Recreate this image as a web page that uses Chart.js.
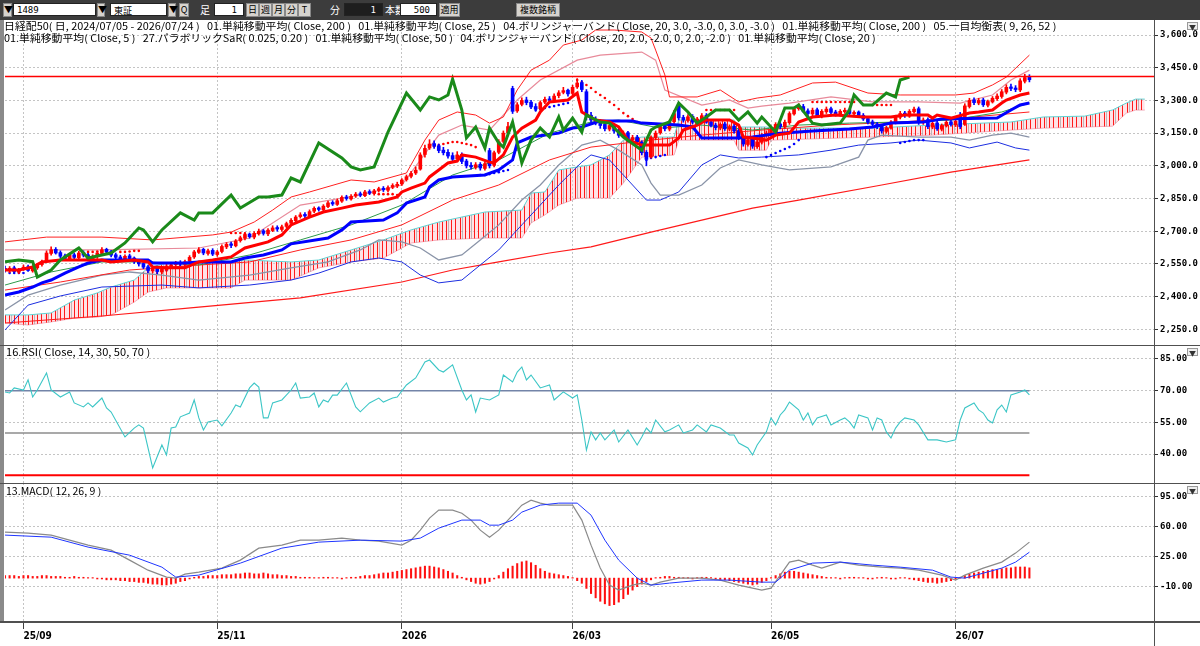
<!DOCTYPE html>
<html><head><meta charset="utf-8">
<script src="https://cdn.jsdelivr.net/npm/chart.js@4.4.1/dist/chart.umd.min.js"></script>
<style>
html,body{margin:0;padding:0;}
body{width:1200px;height:646px;overflow:hidden;background:#fff;position:relative;font-family:"Noto Sans CJK JP",sans-serif;}
.abs{position:absolute;}
#tb{left:0;top:0;width:1200px;height:20px;background:#3c3c3c;}
.inp{position:absolute;top:3px;height:13px;background:#fff;border:1px solid #222;font:9px "DejaVu Sans Mono",monospace;line-height:13px;color:#000;padding-left:3px;box-sizing:border-box;}
.btn{position:absolute;top:3px;height:14px;background:#d6d3ce;border:1px solid #888;font:9px "Noto Sans CJK JP",sans-serif;line-height:12px;color:#000;text-align:center;box-sizing:border-box;}
.wt{position:absolute;top:3px;color:#fff;font:10px "Noto Sans CJK JP",sans-serif;line-height:13px;}
.lg{position:absolute;white-space:nowrap;font:10px "Noto Sans CJK JP",sans-serif;line-height:12px;color:#000;transform-origin:0 0;}
canvas{position:absolute;left:0;}
.hl{position:absolute;left:0;width:1200px;background:#505050;}
.tri{position:absolute;left:1187px;width:11px;height:8px;border:1px solid #999;background:#eee;font-size:7px;line-height:8px;text-align:center;color:#333;box-sizing:border-box;}
</style></head>
<body>
<div id="tb" class="abs">
  <div class="btn" style="left:3px;width:9px">▼</div>
  <div class="inp" style="left:13px;width:83px">1489</div>
  <div class="btn" style="left:97px;width:8px">▼</div>
  <div class="inp" style="left:110px;width:57px;font-family:'Noto Sans CJK JP'">東証</div>
  <div class="btn" style="left:168px;width:8px">▼</div>
  <div class="btn" style="left:179px;width:10px">Q</div>
  <div class="wt" style="left:200px">足</div>
  <div class="inp" style="left:214px;width:30px;text-align:right;padding-right:6px">1</div>
  <div class="btn" style="left:246px;width:13px">日</div>
  <div class="btn" style="left:259px;width:13px">週</div>
  <div class="btn" style="left:272px;width:13px">月</div>
  <div class="btn" style="left:285px;width:13px">分</div>
  <div class="btn" style="left:298px;width:13px">T</div>
  <div class="wt" style="left:330px">分</div>
  <div class="inp" style="left:344px;width:39px;background:#1e1e1e;color:#fff;text-align:right;padding-right:6px">1</div>
  <div class="wt" style="left:385px">本数</div>
  <div class="inp" style="left:400px;width:37px;text-align:right;padding-right:6px">500</div>
  <div class="btn" style="left:439px;width:21px">適用</div>
  <div class="btn" style="left:516px;width:44px">複数銘柄</div>
</div>

<canvas id="cMain" width="1200" height="325" style="top:20px"></canvas>
<canvas id="cRsi" width="1200" height="138" style="top:345px"></canvas>
<canvas id="cMacd" width="1200" height="163" style="top:483px"></canvas>

<div class="abs" style="left:0;top:20px;width:4px;height:602px;background:#8a8a8a"></div>
<div class="hl" style="top:345px;height:1px"></div>
<div class="hl" style="top:483px;height:1px"></div>
<div class="hl" style="top:621px;height:2px"></div>
<div class="abs" style="left:1154px;top:20px;width:1px;height:626px;background:#505050"></div>

<div class="lg fit" data-w="1052" style="left:4px;top:20px">日経配50( 日, 2024/07/05 - 2026/07/24 )&nbsp;&nbsp;&nbsp;01.単純移動平均( Close, 200 )&nbsp;&nbsp;&nbsp;01.単純移動平均( Close, 25 )&nbsp;&nbsp;&nbsp;04.ボリンジャーバンド( Close, 20, 3.0, -3.0, 0, 3.0, -3.0 )&nbsp;&nbsp;&nbsp;01.単純移動平均( Close, 200 )&nbsp;&nbsp;&nbsp;05.一目均衡表( 9, 26, 52 )</div>
<div class="lg fit" data-w="872" style="left:4px;top:32px">01.単純移動平均( Close, 5 )&nbsp;&nbsp;&nbsp;27.パラボリックSaR( 0.025, 0.20 )&nbsp;&nbsp;&nbsp;01.単純移動平均( Close, 50 )&nbsp;&nbsp;&nbsp;04.ボリンジャーバンド( Close, 20, 2.0, -2.0, 0, 2.0, -2.0 )&nbsp;&nbsp;&nbsp;01.単純移動平均( Close, 20 )</div>
<div class="lg fit" data-w="144" style="left:6px;top:346px">16.RSI( Close, 14, 30, 50, 70 )</div>
<div class="lg fit" data-w="95" style="left:6px;top:485px">13.MACD( 12, 26, 9 )</div>
<div class="tri" style="top:22px">▼</div>
<div class="tri" style="top:348px">▼</div>
<div class="tri" style="top:486px">▼</div>

<script>
// ---------- axis ticks ----------
const tickIdx = [4, 46, 86, 123, 166, 206];
const tickLabels = ['25/09', '25/11', '2026', '26/03', '26/05', '26/07'];
const priceTicks = [2250, 2400, 2550, 2700, 2850, 3000, 3150, 3300, 3450, 3600];
const rsiTicks = [40, 55, 70, 85];
const macdTicks = [-10, 25, 60, 95];
const resistance = 3410;
const rsiLevels = [70, 50, 30];

// ---------- candles (bar index 0..222) ----------
const candleOpen = [
2530,2518,2532,2512,2527,2537,2518,2532,2547,2565,
2598,2617,2602,2587,2573,2592,2578,2602,2592,2573,
2583,2598,2617,2607,2592,2582,2568,2587,2577,2562,
2552,2537,2518,2532,2513,2522,2538,2547,2557,2548,
2562,2582,2603,2617,2598,2612,2593,2607,2628,2642,
2633,2657,2668,2687,2673,2688,2702,2688,2703,2717,
2708,2722,2737,2748,2767,2777,2768,2792,2807,2798,
2813,2832,2823,2838,2857,2848,2862,2872,2863,2882,
2873,2887,2897,2888,2902,2908,2917,2937,2952,2967,
2985,3052,3082,3102,3092,3072,3062,3047,3032,3052,
3022,3002,2993,3007,2988,3070,3002,3062,3112,3152,
3355,3252,3282,3302,3292,3272,3262,3292,3307,3302,
3322,3337,3347,3332,3362,3382,3340,3232,3212,3202,
3190,3168,3187,3162,3138,3152,3118,3132,3108,3062,
3040,3128,3152,3182,3168,3202,3280,3222,3208,3227,
3198,3213,3232,3202,3187,3173,3192,3168,3182,3162,
3132,3098,3122,3088,3108,3138,3148,3163,3192,3178,
3198,3238,3262,3272,3252,3238,3257,3228,3248,3262,
3247,3233,3248,3257,3238,3247,3232,3217,3202,3192,
3182,3158,3173,3198,3223,3242,3228,3248,3262,3198,
3212,3178,3197,3168,3183,3202,3188,3230,3190,3272,
3302,3288,3302,3278,3293,3308,3318,3338,3362,3357,
3348,3388,3410];
const candleClose = [
2520,2530,2515,2525,2535,2520,2530,2545,2560,2600,
2615,2600,2585,2575,2590,2580,2600,2590,2575,2585,
2600,2615,2605,2590,2580,2570,2585,2575,2560,2550,
2535,2520,2530,2515,2525,2540,2545,2555,2550,2560,
2580,2605,2615,2600,2610,2595,2605,2630,2640,2635,
2655,2670,2685,2675,2690,2700,2690,2705,2715,2710,
2720,2735,2750,2765,2775,2770,2790,2805,2800,2815,
2830,2825,2840,2855,2850,2860,2870,2865,2880,2875,
2885,2895,2890,2900,2910,2915,2935,2950,2965,2980,
3050,3080,3100,3090,3070,3060,3045,3030,3050,3020,
3000,2995,3005,2990,3010,3000,3060,3110,3150,3180,
3250,3280,3300,3290,3270,3260,3290,3305,3300,3320,
3335,3345,3330,3360,3380,3350,3230,3210,3200,3185,
3170,3185,3160,3140,3150,3120,3130,3110,3060,3030,
3130,3150,3180,3170,3200,3240,3220,3210,3225,3200,
3215,3230,3200,3185,3175,3190,3170,3180,3160,3130,
3100,3120,3090,3110,3140,3150,3165,3190,3180,3200,
3240,3260,3270,3250,3240,3255,3230,3250,3260,3245,
3235,3250,3255,3240,3245,3230,3215,3200,3190,3180,
3160,3175,3200,3225,3240,3230,3250,3260,3200,3210,
3180,3195,3170,3185,3200,3190,3205,3180,3275,3300,
3290,3300,3280,3295,3310,3320,3340,3360,3355,3350,
3390,3405,3395];
const candleHigh = [
2540,2538,2540,2530,2545,2545,2535,2552,2568,2610,
2628,2625,2610,2595,2598,2600,2608,2610,2598,2592,
2608,2625,2622,2612,2600,2590,2592,2595,2582,2570,
2560,2545,2538,2540,2532,2548,2552,2562,2565,2568,
2588,2612,2625,2622,2618,2620,2612,2638,2648,2650,
2662,2678,2695,2692,2698,2710,2708,2712,2725,2725,
2728,2742,2758,2772,2785,2785,2798,2812,2812,2822,
2838,2840,2848,2862,2865,2868,2878,2880,2888,2890,
2892,2902,2905,2908,2918,2925,2942,2958,2975,2995,
3060,3095,3120,3115,3100,3085,3075,3060,3065,3060,
3030,3015,3015,3015,3020,3080,3068,3120,3160,3200,
3365,3290,3312,3315,3300,3285,3298,3315,3318,3330,
3345,3360,3352,3370,3400,3392,3350,3245,3225,3212,
3198,3192,3195,3170,3160,3158,3140,3140,3115,3070,
3138,3160,3190,3192,3210,3255,3290,3232,3235,3235,
3222,3240,3240,3210,3195,3198,3200,3188,3190,3170,
3140,3128,3130,3118,3148,3160,3172,3198,3200,3210,
3248,3270,3285,3282,3262,3265,3265,3258,3270,3270,
3255,3258,3265,3262,3252,3252,3240,3225,3210,3200,
3190,3182,3208,3232,3250,3250,3258,3270,3270,3220,
3220,3202,3205,3192,3208,3210,3212,3245,3285,3310,
3312,3310,3310,3302,3318,3330,3350,3372,3375,3368,
3400,3420,3418];
const candleLow = [
2512,2510,2508,2505,2520,2515,2512,2525,2540,2558,
2590,2595,2578,2565,2565,2572,2570,2582,2568,2565,
2575,2592,2598,2582,2572,2562,2560,2570,2552,2540,
2528,2510,2510,2505,2505,2515,2530,2540,2542,2540,
2555,2575,2598,2592,2590,2588,2585,2600,2620,2625,
2628,2650,2660,2668,2665,2682,2682,2680,2698,2700,
2700,2715,2730,2742,2760,2762,2762,2785,2792,2790,
2808,2818,2818,2832,2842,2842,2855,2858,2858,2868,
2865,2880,2882,2880,2895,2900,2910,2930,2945,2960,
2980,3040,3075,3080,3060,3050,3035,3015,3020,3010,
2990,2985,2985,2980,2980,2990,2995,3055,3105,3140,
3240,3245,3275,3280,3262,3250,3255,3285,3290,3295,
3312,3330,3320,3325,3355,3340,3210,3195,3188,3172,
3160,3160,3150,3130,3130,3110,3110,3100,3050,3000,
3035,3120,3145,3160,3160,3195,3210,3200,3200,3192,
3190,3205,3195,3178,3165,3165,3162,3160,3150,3120,
3090,3090,3080,3080,3100,3130,3140,3158,3170,3170,
3190,3232,3255,3245,3230,3230,3222,3220,3240,3238,
3228,3228,3240,3235,3230,3222,3208,3192,3182,3170,
3150,3150,3168,3192,3215,3222,3222,3242,3190,3190,
3170,3170,3162,3160,3178,3182,3180,3170,3185,3265,
3280,3280,3272,3270,3288,3300,3310,3330,3345,3340,
3340,3380,3385];

// ---------- Ichimoku ([bar index, price]) ----------
const tenkan = [[0,2522],[3,2522],[6,2536],[8,2559],[12,2568],[17,2568],[21,2568],[23,2559],[28,2568],[31,2559],[32,2536],[35,2532],[39,2532],[42,2559],[45,2568],[49,2582],[52,2623],[57,2651],[60,2683],[62,2729],[66,2765],[69,2788],[73,2806],[76,2820],[81,2834],[85,2857],[86,2880],[88,2898],[91,2921],[92,2949],[94,2981],[96,3013],[98,3022],[99,3050],[102,3040],[105,3017],[106,3013],[108,3050],[110,3132],[112,3173],[115,3210],[116,3247],[118,3293],[122,3302],[124,3334],[125,3247],[128,3210],[131,3201],[133,3178],[135,3118],[138,3095],[144,3095],[146,3128],[147,3164],[150,3187],[152,3210],[157,3210],[159,3187],[160,3132],[162,3128],[165,3118],[167,3141],[170,3150],[172,3201],[175,3224],[180,3233],[186,3224],[192,3224],[195,3233],[200,3233],[201,3219],[202,3233],[205,3219],[209,3242],[211,3247],[214,3256],[216,3288],[217,3302],[220,3325],[222,3334]];
const kijun = [[0,2407],[3,2421],[6,2444],[8,2463],[10,2476],[13,2508],[16,2536],[18,2554],[21,2568],[31,2568],[32,2554],[39,2554],[42,2559],[49,2559],[52,2577],[56,2591],[60,2614],[62,2642],[70,2669],[73,2706],[75,2742],[82,2751],[85,2784],[87,2829],[91,2857],[92,2903],[94,2935],[97,2949],[104,2958],[107,2981],[110,3027],[111,3105],[114,3132],[120,3150],[123,3173],[125,3178],[129,3206],[136,3206],[138,3196],[146,3187],[149,3178],[151,3128],[159,3128],[162,3132],[168,3150],[175,3160],[183,3169],[188,3178],[192,3196],[199,3201],[203,3215],[215,3219],[218,3256],[220,3279],[222,3288]];
const chikou = [[0,2560],[3,2568],[6,2560],[7,2490],[10,2522],[12,2568],[16,2623],[18,2577],[21,2591],[23,2600],[26,2646],[29,2715],[30,2706],[32,2651],[34,2706],[38,2784],[41,2751],[42,2784],[45,2784],[49,2866],[51,2806],[55,2857],[57,2857],[60,2866],[62,2944],[64,2926],[68,3105],[73,3036],[75,2995],[77,2981],[80,2995],[83,3155],[87,3334],[90,3256],[92,3316],[94,3302],[96,3325],[97,3398],[99,3256],[100,3128],[102,3178],[104,3082],[105,3173],[107,3105],[108,3086],[110,3201],[112,3013],[114,3118],[116,3173],[118,3132],[120,3224],[121,3164],[123,3219],[125,3155],[126,3233],[129,3201],[131,3196],[134,3132],[138,3072],[140,3164],[141,3178],[144,3201],[146,3288],[148,3247],[150,3196],[152,3224],[154,3256],[157,3256],[159,3210],[161,3247],[163,3196],[164,3224],[167,3155],[169,3265],[171,3265],[172,3279],[175,3196],[177,3187],[181,3196],[183,3256],[184,3325],[186,3279],[188,3279],[191,3334],[193,3316],[194,3394],[196,3407]];
const cloudIdx = [0,5,10,15,20,23,28,31,35,42,49,52,62,68,75,82,88,94,104,112,114,117,120,124,127,131,134,138,145,146,158,159,165,166,188,201,218,225,234,240,243,245,247];
const spanA = [2316,2316,2325,2384,2417,2444,2476,2532,2554,2554,2559,2568,2559,2568,2614,2660,2706,2742,2788,2797,2875,2880,2981,2995,3004,3050,3118,3132,3132,3210,3210,3178,3178,3173,3173,3187,3201,3224,3228,3256,3288,3306,3306];
const spanB = [2279,2270,2284,2301,2306,2316,2375,2421,2440,2440,2440,2476,2476,2532,2559,2577,2646,2660,2669,2669,2738,2775,2820,2852,2852,2852,2921,3040,3050,3118,3118,3072,3072,3118,3132,3141,3164,3173,3178,3182,3242,3256,3256];

// ---------- Bollinger / moving averages ([bar index, price]) ----------
const bbUpper3 = [[0,2651],[9,2673],[21,2673],[32,2660],[45,2683],[49,2696],[54,2742],[58,2797],[62,2857],[66,2880],[75,2935],[80,2926],[87,2967],[91,3118],[94,3210],[98,3247],[102,3233],[105,3196],[108,3224],[111,3348],[114,3439],[118,3485],[121,3554],[125,3577],[128,3623],[132,3623],[138,3614],[140,3586],[141,3531],[143,3417],[144,3316],[150,3316],[155,3348],[159,3293],[163,3311],[168,3325],[175,3380],[180,3384],[187,3334],[194,3325],[206,3325],[210,3334],[214,3371],[217,3407],[222,3508]];
const bbUpper2 = [[0,2614],[21,2614],[42,2623],[53,2669],[64,2820],[77,2866],[86,2912],[94,3141],[99,3187],[105,3164],[111,3302],[116,3394],[124,3485],[129,3508],[138,3522],[141,3485],[143,3348],[151,3279],[157,3302],[161,3265],[164,3274],[170,3288],[179,3316],[188,3293],[198,3293],[207,3288],[214,3325],[218,3394],[222,3439]];
const bbLower2 = [[0,2339],[5,2407],[12,2453],[21,2499],[27,2513],[34,2499],[42,2476],[53,2499],[62,2532],[70,2559],[77,2614],[81,2660],[86,2651],[90,2623],[94,2568],[99,2591],[103,2660],[107,2729],[112,2843],[116,2912],[120,3004],[125,3095],[129,3118],[133,3072],[138,3004],[140,2921],[142,2866],[146,2866],[151,2912],[155,2990],[159,3027],[164,3004],[170,2981],[179,2995],[185,3040],[187,3118],[190,3141],[198,3132],[205,3132],[209,3118],[214,3141],[218,3150],[222,3132]];
const bbLower3 = [[0,2247],[5,2361],[12,2403],[21,2444],[34,2453],[42,2440],[53,2453],[62,2476],[68,2508],[75,2559],[81,2577],[86,2559],[90,2499],[94,2463],[99,2476],[103,2545],[107,2614],[112,2729],[116,2820],[120,2912],[125,3017],[127,3050],[131,3027],[136,2912],[139,2843],[142,2843],[146,2880],[151,3004],[155,3050],[159,3036],[164,3040],[172,3050],[179,3072],[185,3095],[192,3105],[198,3118],[205,3105],[209,3082],[215,3109],[219,3082],[222,3072]];
const ma200 = [[0,2279],[21,2311],[42,2352],[64,2394],[86,2467],[97,2522],[107,2559],[118,2600],[127,2628],[140,2696],[151,2751],[162,2806],[172,2843],[190,2912],[205,2971],[222,3027]];
const ma50 = [[0,2430],[12,2467],[27,2522],[42,2545],[53,2559],[64,2614],[75,2660],[86,2729],[97,2843],[107,2912],[118,3027],[127,3086],[140,3118],[151,3141],[164,3164],[179,3187],[194,3201],[207,3219],[222,3247]];
const ma20 = [[0,2453],[10,2513],[21,2559],[31,2559],[42,2545],[53,2591],[64,2660],[75,2729],[86,2820],[97,2958],[107,3027],[118,3150],[127,3201],[133,3210],[142,3173],[151,3187],[162,3164],[172,3187],[183,3196],[194,3201],[205,3210],[216,3247],[222,3288]];

// ---------- Parabolic SAR ([bar index, price]) ----------
const sarAbove = [[18,2605],[19,2605],[20,2607],[21,2607],[22,2607],[25,2605],[26,2605],[27,2607],[28,2610],[29,2610],[49,2692],[50,2692],[51,2692],[52,2688],[78,2875],[79,2875],[80,2875],[81,2870],[82,2870],[83,2870],[84,2870],[85,2866],[92,3086],[93,3090],[94,3095],[95,3100],[96,3105],[97,3109],[98,3109],[99,3105],[100,3100],[101,3095],[102,3086],[124,3394],[125,3384],[126,3371],[127,3357],[128,3339],[129,3325],[130,3311],[131,3293],[132,3279],[133,3261],[134,3242],[135,3228],[136,3215],[137,3201],[152,3256],[153,3256],[154,3256],[155,3256],[156,3256],[157,3256],[158,3256],[175,3293],[176,3293],[177,3293],[178,3293],[179,3293],[180,3293],[181,3293],[182,3293],[183,3293],[184,3293],[188,3279],[189,3279],[190,3279],[191,3279],[192,3279]];
const sarBelow = [[1,2508],[2,2508],[3,2508],[4,2508],[33,2522],[34,2522],[35,2522],[103,2958],[104,2958],[105,2962],[106,2967],[107,2971],[108,2976],[109,2981],[115,3256],[116,3261],[117,3265],[118,3270],[119,3274],[120,3279],[121,3284],[122,3288],[139,3027],[140,3036],[141,3040],[142,3045],[143,3050],[165,3040],[166,3050],[167,3059],[168,3068],[169,3077],[170,3086],[171,3100],[172,3118],[194,3105],[195,3109],[196,3114],[197,3118],[198,3118],[199,3118]];

// ---------- RSI ([bar index, value]) ----------
const rsi = [[0,69.4],[1,68.9],[2,71.3],[4,70.3],[5,75.1],[6,67.0],[7,70.3],[9,78.4],[10,70.3],[12,67.0],[14,69.4],[15,64.2],[17,62.3],[18,64.2],[19,62.3],[21,66.5],[22,61.8],[23,59.9],[26,48.1],[28,52.3],[29,53.8],[30,52.3],[32,33.4],[34,44.3],[35,39.6],[36,52.3],[37,52.8],[38,57.6],[40,59.4],[41,65.6],[42,57.1],[43,51.4],[44,55.2],[46,56.1],[47,53.3],[49,59.4],[50,63.2],[51,62.3],[53,71.3],[54,73.6],[55,71.7],[56,57.1],[57,57.1],[58,64.2],[60,65.6],[62,70.3],[63,73.6],[64,66.5],[66,67.0],[67,68.9],[68,62.3],[69,65.6],[70,64.6],[71,67.9],[72,67.9],[74,73.6],[76,62.3],[77,60.0],[79,64.2],[81,66.5],[82,64.6],[83,65.6],[84,66.5],[85,67.0],[87,72.7],[89,76.0],[90,79.8],[91,83.6],[92,84.5],[94,79.8],[95,78.8],[97,82.2],[99,70.3],[100,65.6],[101,68.0],[102,59.9],[103,66.5],[105,65.6],[107,68.0],[108,77.4],[110,74.1],[111,78.8],[112,81.2],[113,75.1],[114,77.4],[116,71.3],[118,72.7],[119,65.6],[121,69.4],[123,66.5],[124,68.0],[125,56.1],[126,41.9],[127,50.5],[128,46.7],[129,50.0],[130,46.7],[132,51.4],[133,45.7],[135,51.4],[137,44.3],[138,48.1],[139,52.3],[140,50.0],[141,56.1],[143,50.5],[144,51.4],[146,53.8],[147,50.0],[149,51.4],[150,53.8],[152,50.5],[153,53.8],[155,52.3],[157,49.0],[158,49.0],[159,45.2],[161,42.9],[162,39.6],[163,44.3],[165,50.5],[166,57.1],[167,53.8],[168,58.5],[169,60.9],[170,64.6],[172,60.9],[173,56.1],[174,59.4],[175,53.8],[176,57.1],[178,58.5],[179,53.8],[181,56.1],[182,57.1],[183,55.2],[184,52.3],[185,58.5],[187,57.1],[188,51.4],[189,57.1],[190,56.1],[191,50.5],[192,47.6],[193,52.3],[194,55.2],[195,57.1],[197,56.1],[198,53.8],[200,46.7],[202,46.7],[204,45.7],[206,46.7],[207,56.1],[208,61.8],[210,64.2],[211,60.9],[212,59.4],[213,56.1],[214,54.7],[215,60.9],[216,63.2],[217,59.9],[218,68.0],[220,69.4],[221,70.3],[222,68.0]];

// ---------- MACD ----------
const macdLine = [[0,53.7],[5,52.5],[10,50.2],[14,44.3],[18,38.5],[23,32.7],[27,21.0],[31,9.3],[35,1.2],[37,0],[39,4.7],[42,7.0],[47,11.7],[51,21.0],[55,35.0],[60,38.5],[64,44.3],[68,44.3],[73,46.7],[77,44.3],[81,43.2],[86,38.5],[88,44.3],[90,56.0],[92,70.0],[94,79.3],[97,79.3],[99,75.8],[101,67.7],[103,56.0],[105,47.8],[107,56.0],[110,73.5],[112,85.2],[114,91.0],[116,87.5],[118,85.2],[120,85.2],[123,85.2],[125,67.7],[127,38.5],[129,11.7],[131,-8.2],[133,-14.0],[136,-8.2],[138,-5.8],[140,-8.2],[142,-4.7],[146,0],[151,0],[155,-2.3],[159,-8.2],[164,-14.0],[166,-11.7],[168,3.5],[170,18.7],[172,21.0],[175,15.2],[177,11.7],[181,18.7],[185,15.2],[190,12.8],[194,11.7],[198,9.3],[203,3.5],[206,-2.3],[208,3.5],[212,11.7],[216,18.7],[219,29.2],[222,42.0]];
const macdSignal = [[0,50.2],[10,47.8],[18,36.2],[27,26.8],[34,12.8],[37,1.2],[42,3.5],[51,17.5],[60,35.0],[68,42.0],[77,44.3],[86,43.2],[90,46.7],[94,58.3],[99,67.7],[103,67.7],[105,61.8],[107,61.8],[110,67.7],[112,77.0],[116,85.2],[120,87.5],[124,87.5],[127,73.5],[130,44.3],[133,21.0],[137,0],[140,-8.2],[144,-5.8],[151,-2.3],[157,-2.3],[164,-4.7],[167,-4.7],[170,9.3],[175,17.5],[181,18.7],[188,15.2],[194,12.8],[201,9.3],[205,1.2],[208,0],[212,5.8],[216,11.7],[219,18.7],[222,30.3]];
const macdHist = [
3,3,3,2,3,3,2,2,3,3,2,2,2,1,1,2,1,1,0,0,
-1,-1,-2,-2,-2,-3,-3,-4,-4,-5,-5,-6,-7,-7,-8,-8,-7,-6,-4,-3,
-1,1,2,2,3,3,3,4,4,4,5,5,6,6,5,5,6,5,4,4,
3,3,2,2,1,1,1,0,0,1,1,0,0,-1,0,1,1,2,3,3,
4,5,6,6,7,8,9,10,11,12,13,14,14,13,12,10,8,6,3,1,
-2,-4,-6,-7,-6,-4,-1,3,7,11,14,17,19,20,18,15,11,8,6,5,
4,3,2,0,-3,-6,-12,-18,-23,-27,-30,-32,-31,-28,-24,-19,-14,-10,-7,-4,
-2,0,1,2,2,1,1,0,0,-1,0,1,1,0,-1,-2,-2,-3,-4,-5,
-6,-7,-8,-7,-5,-3,0,3,5,7,8,8,7,6,5,4,3,2,1,0,
0,-1,0,1,1,0,0,-1,-1,0,1,0,-1,-1,0,0,-1,-2,-3,-4,
-5,-5,-6,-5,-4,-3,-1,1,3,5,6,7,8,9,10,10,11,12,12,13,13,13,12];

// ================= rendering =================
const X_MAX = 249;
const lastBar = candleClose.length - 1;
const pts = a => a.map(p => ({x: p[0], y: p[1]}));
const monoBold = {family: 'DejaVu Sans Mono', size: 9, weight: 'bold'};
const upColor = '#ff0000', downColor = '#0000ff';
const candleColor = i => candleClose[i] >= candleOpen[i] ? upColor : downColor;

function line(data, color, width, order, extra) {
  return Object.assign({type: 'line', data, borderColor: color, borderWidth: width, pointRadius: 0,
    tension: 0, fill: false, order}, extra || {});
}
function xScale(showLabels) {
  return {
    type: 'linear', min: 0, max: X_MAX, offset: false,
    afterBuildTicks: s => { s.ticks = tickIdx.map(v => ({value: v})); },
    afterFit: s => { s.height = showLabels ? 24 : 0; s.paddingLeft = 0; s.paddingRight = 0; },
    ticks: {display: showLabels, autoSkip: false, maxRotation: 0, align: 'start', padding: 1,
      callback: v => tickLabels[tickIdx.indexOf(v)] || '',
      font: {family: "'Liberation Sans Narrow','DejaVu Sans Condensed',sans-serif", size: 10, weight: 'bold'}, color: '#000'},
    grid: {offset: false, color: '#c4c4c4', lineWidth: 1, drawTicks: showLabels, tickLength: 7, tickColor: '#404040', tickBorderDash: []},
    border: {display: false, dash: [2, 2]}
  };
}
function yScale(min, max, ticks, fmt) {
  return {
    position: 'right', min, max,
    afterBuildTicks: s => { s.ticks = ticks.map(v => ({value: v})); },
    afterFit: s => { s.width = 46; s.paddingTop = 0; s.paddingBottom = 0; },
    ticks: {callback: fmt, font: monoBold, color: '#000', padding: 2},
    grid: {offset: false, color: '#c4c4c4', lineWidth: 1, tickLength: 4, tickColor: '#303030', tickBorderDash: []},
    border: {display: false, dash: [2, 2]}
  };
}
const baseOpts = (scales) => ({
  responsive: false, animation: false, events: [],
  layout: {autoPadding: false, padding: {left: 5, right: 0, top: 0, bottom: 0}},
  plugins: {legend: {display: false}, tooltip: {enabled: false}},
  scales
});

// hatch pattern for the cloud
const hc = document.createElement('canvas'); hc.width = 23; hc.height = 4;
const hg = hc.getContext('2d');
hg.fillStyle = 'rgba(255,190,200,0.45)'; hg.fillRect(0, 0, 23, 4);
hg.fillStyle = '#ff1a1a'; [0, 5, 9, 14, 18].forEach(x => hg.fillRect(x, 0, 1, 4));
hg.fillStyle = 'rgba(150,150,150,0.6)'; [2, 11].forEach(x => hg.fillRect(x, 0, 1, 4));
const mainCtx = document.getElementById('cMain').getContext('2d');
const hatch = mainCtx.createPattern(hc, 'repeat');

const fmtPrice = v => v.toLocaleString('en-US', {minimumFractionDigits: 1, maximumFractionDigits: 1});
const fmt2 = v => v.toFixed(2);

function draw() {
  new Chart(mainCtx, {
    type: 'line',
    data: {datasets: [
      line([{x: 0, y: resistance}, {x: X_MAX, y: resistance}], '#ff0000', 1.5, 1),
      line(pts(chikou), '#1a8a1a', 3, 2),
      line(pts(tenkan), '#ff0000', 3, 3),
      line(pts(kijun), '#0000ff', 3, 4),
      {type: 'bar', order: 5, barThickness: 3, grouped: false, borderWidth: 0,
        data: candleOpen.map((o, i) => ({x: i, y: [o, candleClose[i]]})),
        backgroundColor: c => candleColor(c.dataIndex)},
      {type: 'bar', order: 5.5, barThickness: 1, grouped: false, borderWidth: 0,
        data: candleLow.map((l, i) => ({x: i, y: [l, candleHigh[i]]})),
        backgroundColor: c => candleColor(c.dataIndex)},
      {type: 'scatter', order: 6, data: pts(sarAbove), pointRadius: 1.3, pointBackgroundColor: '#ff0000', pointBorderWidth: 0, showLine: false},
      {type: 'scatter', order: 6, data: pts(sarBelow), pointRadius: 1.3, pointBackgroundColor: '#0000ff', pointBorderWidth: 0, showLine: false},
      line(pts(ma20), '#2e9a4a', 1, 7),
      line(pts(ma50), '#ff2020', 1, 7),
      line(pts(bbUpper3), '#ff2020', 1, 8),
      line(pts(bbUpper2), '#e88a9a', 1.2, 8),
      line(pts(bbLower2), '#8a94a8', 1.3, 8),
      line(pts(bbLower3), '#1c2ee0', 1, 8),
      line(pts(ma200), '#ff1a1a', 1.2, 9),
      line(cloudIdx.map((v, i) => ({x: v, y: spanA[i]})), '#5fd3d3', 1, 10, {fill: '+1', backgroundColor: hatch}),
      line(cloudIdx.map((v, i) => ({x: v, y: spanB[i]})), '#f2a6b6', 1, 11)
    ]},
    options: baseOpts({x: xScale(false), y: yScale(2178, 3669, priceTicks, fmtPrice)})
  });

  new Chart(document.getElementById('cRsi').getContext('2d'), {
    type: 'line',
    data: {datasets: [
      line(pts(rsi), '#3cc6c6', 1.1, 1),
      line([{x: 0, y: rsiLevels[0]}, {x: lastBar, y: rsiLevels[0]}], '#7384a8', 1.5, 2),
      line([{x: 0, y: rsiLevels[1]}, {x: lastBar, y: rsiLevels[1]}], '#8c8c8c', 1.5, 2),
      line([{x: 0, y: rsiLevels[2]}, {x: lastBar, y: rsiLevels[2]}], '#ff0000', 2, 2)
    ]},
    options: baseOpts({x: xScale(false), y: yScale(26.3, 91.6, rsiTicks, fmt2)})
  });

  new Chart(document.getElementById('cMacd').getContext('2d'), {
    type: 'line',
    data: {datasets: [
      line(pts(macdSignal), '#1f35ff', 1, 1),
      line(pts(macdLine), '#8a8a8a', 1.2, 2),
      {type: 'bar', order: 3, barThickness: 1.4, grouped: false,
        data: macdHist.map((v, i) => ({x: i, y: [0, v === 0 ? 0.6 : v]})),
        backgroundColor: '#ff1010', borderWidth: 0}
    ]},
    options: baseOpts({x: xScale(true), y: yScale(-51.2, 111.0, macdTicks, fmt2)})
  });

  document.querySelectorAll('.fit').forEach(el => {
    const w = +el.dataset.w;
    el.style.transform = 'scaleX(' + (w / el.scrollWidth) + ')';
  });
}
(document.fonts && document.fonts.ready ? document.fonts.ready : Promise.resolve()).then(draw);
</script>
</body></html>
